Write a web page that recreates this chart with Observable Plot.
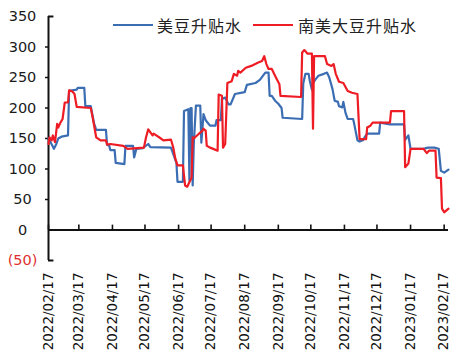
<!DOCTYPE html>
<html>
<head>
<meta charset="utf-8">
<script src="https://cdn.jsdelivr.net/npm/d3@7"></script>
<script src="https://cdn.jsdelivr.net/npm/@observablehq/plot@0.6"></script>
<style>
  html, body { margin: 0; padding: 0; background: #fff; }
  #wrap { position: relative; width: 473px; height: 354px; }
  #legend { position: absolute; top: 14px; left: 113px; font-family: "Noto Sans CJK SC", sans-serif; font-size: 16px; color: #222; white-space: nowrap; line-height: 22px; }
  .sw { position: absolute; top: 10px; height: 0; border-top: 2.4px solid; }
  .lbl { position: absolute; top: 0; letter-spacing: 1px; }
</style>
</head>
<body>
<div id="wrap">
  <div id="chart"></div>
  <div id="legend"></div>
</div>
<script>
// ---- data ----
const seriesNames = ["美豆升贴水", "南美大豆升贴水"];
const seriesColors = ["#3B6DB3", "#EE1C24"];

const blueDates = ["2022-02-17","2022-02-20","2022-02-22","2022-02-24","2022-02-26","2022-03-01","2022-03-07","2022-03-08","2022-03-15","2022-03-16",
"2022-03-22","2022-03-23","2022-03-28","2022-03-31","2022-04-02","2022-04-11","2022-04-12","2022-04-14","2022-04-15","2022-04-19",
"2022-04-20","2022-04-28","2022-04-29","2022-05-06","2022-05-07","2022-05-09","2022-05-15","2022-05-20","2022-05-22","2022-06-10",
"2022-06-15","2022-06-16","2022-06-21","2022-06-22","2022-06-26","2022-06-27","2022-06-28","2022-06-29","2022-06-30","2022-07-01",
"2022-07-03","2022-07-07","2022-07-08","2022-07-10","2022-07-12","2022-07-16","2022-07-21","2022-07-22","2022-07-26","2022-07-27",
"2022-07-30","2022-08-02","2022-08-04","2022-08-08","2022-08-17","2022-08-19","2022-08-27","2022-08-31","2022-09-05","2022-09-08",
"2022-09-09","2022-09-11","2022-09-14","2022-09-17","2022-09-20","2022-09-21","2022-10-09","2022-10-10","2022-10-12","2022-10-15",
"2022-10-16","2022-10-18","2022-10-19","2022-10-21","2022-10-24","2022-10-29","2022-11-01","2022-11-03","2022-11-06","2022-11-08",
"2022-11-11","2022-11-12","2022-11-15","2022-11-16","2022-11-18","2022-11-20","2022-11-25","2022-11-26","2022-11-29","2022-12-01",
"2022-12-04","2022-12-06","2022-12-08","2022-12-19","2022-12-20","2022-12-29","2023-01-11","2023-01-12","2023-01-15","2023-01-17",
"2023-01-29","2023-02-02","2023-02-08","2023-02-12","2023-02-14","2023-02-17","2023-02-21"];
const blueValues = [150,140,133,140,150,153,155,228,230,233,
233,203,203,175,164,164,140,138,131,131,
110,108,138,138,119,133,134,141,136,135,
110,79,79,195,198,81,200,200,73,140,
204,204,143,190,180,171,171,180,180,215,
217,206,206,223,226,238,241,246,258,258,
220,220,212,207,200,184,182,240,256,256,
245,230,241,246,253,256,258,250,231,212,
210,203,201,210,192,182,182,174,147,145,
147,153,158,158,176,173,173,148,155,133,
133,135,135,133,97,94,99];

const redDates = ["2022-02-17","2022-02-18","2022-02-20","2022-02-21","2022-02-23","2022-02-25","2022-02-26","2022-02-28","2022-03-02","2022-03-04",
"2022-03-07","2022-03-08","2022-03-11","2022-03-13","2022-03-15","2022-03-28","2022-03-30","2022-04-02","2022-04-06","2022-04-11",
"2022-04-12","2022-04-15","2022-04-27","2022-05-01","2022-05-16","2022-05-18","2022-05-20","2022-05-24","2022-05-25","2022-05-30",
"2022-06-03","2022-06-10","2022-06-12","2022-06-14","2022-06-16","2022-06-21","2022-06-22","2022-06-23","2022-06-25","2022-06-29",
"2022-06-30","2022-07-01","2022-07-04","2022-07-09","2022-07-10","2022-07-12","2022-07-13","2022-07-16","2022-07-19","2022-07-23",
"2022-07-24","2022-07-27","2022-07-28","2022-07-30","2022-08-01","2022-08-05","2022-08-07","2022-08-10","2022-08-11","2022-08-13",
"2022-08-18","2022-08-23","2022-08-29","2022-09-02","2022-09-04","2022-09-06","2022-09-08","2022-09-11","2022-09-14","2022-09-18",
"2022-09-19","2022-10-08","2022-10-09","2022-10-11","2022-10-14","2022-10-18","2022-10-19","2022-10-20","2022-10-30","2022-11-01",
"2022-11-05","2022-11-07","2022-11-09","2022-11-12","2022-11-16","2022-11-20","2022-11-24","2022-11-29","2022-12-01","2022-12-07",
"2022-12-08","2022-12-11","2022-12-13","2022-12-29","2022-12-30","2023-01-11","2023-01-12","2023-01-15","2023-01-17","2023-01-29",
"2023-02-01","2023-02-03","2023-02-09","2023-02-10","2023-02-14","2023-02-15","2023-02-17","2023-02-21"];
const redValues = [141,152,147,155,144,174,168,176,182,209,
209,229,227,223,202,200,182,152,147,147,
140,141,138,133,135,152,165,155,158,152,
147,148,136,117,106,106,89,73,71,86,
152,150,155,163,166,163,138,135,133,130,
222,220,135,141,241,244,256,253,261,258,
266,269,274,277,285,272,264,264,253,239,
220,218,291,295,289,289,166,285,285,272,
269,272,256,243,241,228,225,223,149,149,
168,171,176,176,195,195,103,109,133,133,
126,130,130,86,85,35,29,35];

const tickDates = ["2022-02-17","2022-03-17","2022-04-17","2022-05-17","2022-06-17","2022-07-17","2022-08-17","2022-09-17","2022-10-17","2022-11-17","2022-12-17","2023-01-17","2023-02-17"];
const xDomain = ["2022-02-17", "2023-02-21"];
const yTicks = [350, 300, 250, 200, 150, 100, 50, 0, -50];

// ---- build ----
const parse = d3.utcParse("%Y-%m-%d");
const blue = blueDates.map((d, i) => ({date: parse(d), value: blueValues[i]}));
const red = redDates.map((d, i) => ({date: parse(d), value: redValues[i]}));
const x0 = parse(xDomain[0]);
const yMin = d3.min(yTicks), yMax = d3.max(yTicks);
const fmt = d => d < 0 ? `(${-d})` : `${d}`;

const chart = Plot.plot({
  width: 473,
  height: 354,
  marginLeft: 48,
  marginRight: 25,
  marginTop: 16,
  marginBottom: 94,
  x: {type: "utc", domain: xDomain.map(parse)},
  y: {domain: [yMin, yMax]},
  style: {fontFamily: "DejaVu Sans, sans-serif", fontSize: "13px", color: "#111", background: "white"},
  marks: [
    Plot.axisX({ticks: tickDates.map(parse), tickFormat: d3.utcFormat("%Y/%m/%d"), tickRotate: -90, tickSize: 0, tickPadding: 12, label: null, fontSize: 13.5, fill: "#111"}),
    Plot.axisY({ticks: yTicks.filter(d => d > 0 && d < yMax), tickSize: 3, tickFormat: () => "", label: null, strokeWidth: 1.5}),
    Plot.text(yTicks, {frameAnchor: "left", y: d => d, text: fmt, dx: -26, textAnchor: "middle", fill: d => d < 0 ? "#E0302F" : "#1a1a1a", fontSize: 14.5, letterSpacing: 1}),
    Plot.ruleY([yMax, yMin], {x1: x0, x2: d3.utcDay.offset(x0, 5), strokeWidth: 2}),
    Plot.ruleX([x0], {y1: yMin, y2: yMax, strokeWidth: 2}),
    Plot.ruleY([0], {strokeWidth: 2}),
    Plot.ruleX(tickDates.map(parse), {y1: 0, y2: 8, strokeWidth: 1.6}),
    Plot.line(blue, {x: "date", y: "value", stroke: seriesColors[0], strokeWidth: 2.2}),
    Plot.line(red, {x: "date", y: "value", stroke: seriesColors[1], strokeWidth: 2.2})
  ]
});
document.getElementById("chart").appendChild(chart);

// ---- legend ----
const legend = document.getElementById("legend");
const legendPos = [{sw: 0, lbl: 44}, {sw: 140, lbl: 185}];
seriesNames.forEach((name, i) => {
  const sw = document.createElement("span");
  sw.className = "sw";
  sw.style.left = legendPos[i].sw + "px";
  sw.style.width = "40px";
  sw.style.borderTopColor = seriesColors[i];
  legend.appendChild(sw);
  const t = document.createElement("span");
  t.className = "lbl";
  t.style.left = legendPos[i].lbl + "px";
  t.textContent = name;
  legend.appendChild(t);
});
</script>
</body>
</html>
